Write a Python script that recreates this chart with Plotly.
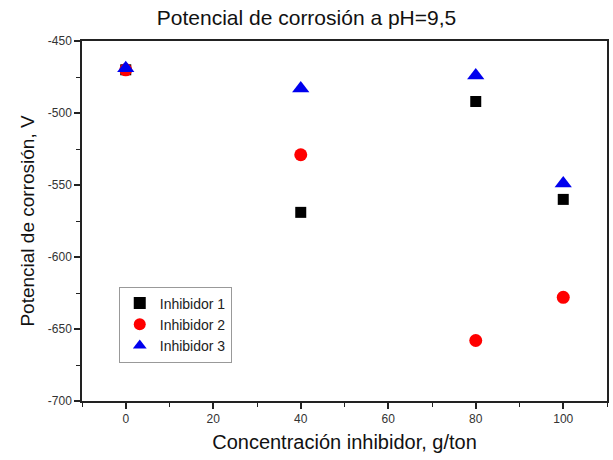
import plotly.graph_objects as go

conc = [0, 40, 80, 100]
inh1 = [-470, -569, -492, -560]
inh2 = [-470, -529, -658, -628]
inh3 = [-469, -483, -474, -549]
names = ["Inhibidor 1", "Inhibidor 2", "Inhibidor 3"]
x_ticks = [0, 20, 40, 60, 80, 100]
y_ticks = [-700, -650, -600, -550, -500, -450]

fig = go.Figure()
fig.add_trace(go.Scatter(x=conc, y=inh1, mode="markers", name=names[0],
                         marker=dict(symbol="square", size=11, color="black")))
fig.add_trace(go.Scatter(x=conc, y=inh2, mode="markers", name=names[1],
                         marker=dict(symbol="circle", size=13, color="#ff0000")))
fig.add_trace(go.Scatter(x=conc, y=inh3, mode="markers", name=names[2],
                         marker=dict(symbol="triangle-up", size=15, color="#0000ee")))

axis_common = dict(showgrid=False, zeroline=False, showline=True, linecolor="#222",
                   linewidth=1.5, mirror=True, ticks="outside", ticklen=6, tickwidth=1.5,
                   tickcolor="#222", tickfont=dict(family="Liberation Sans, Arial", size=12, color="#333"),
                   minor=dict(ticks="outside", ticklen=4, tickwidth=1.2, tickcolor="#222"))

fig.update_xaxes(range=[-10, 110], tickvals=x_ticks, ticktext=[str(v) for v in x_ticks],
                 title=dict(text="Concentración inhibidor, g/ton", standoff=10,
                            font=dict(family="Liberation Sans, Arial", size=20, color="#111")),
                 minor_dtick=10, minor_tick0=0, **axis_common)
fig.update_yaxes(range=[-700, -450], tickvals=y_ticks, ticktext=[str(v) for v in y_ticks],
                 title=dict(text="Potencial de corrosión, V", standoff=8,
                            font=dict(family="Liberation Sans, Arial", size=19, color="#111")),
                 minor_dtick=25, minor_tick0=0, **axis_common)

fig.update_layout(
    width=613, height=460,
    margin=dict(l=82, r=4, t=41, b=59),
    paper_bgcolor="white", plot_bgcolor="white",
    title=dict(text="Potencial de corrosión a pH=9,5", x=0.5, xanchor="center",
               y=0.962, yanchor="middle",
               font=dict(family="Liberation Sans, Arial", size=21, color="#111")),
    legend=dict(x=0.07, y=0.318, xanchor="left", yanchor="top",
                bordercolor="#999", borderwidth=1, bgcolor="white",
                font=dict(family="Liberation Sans, Arial", size=14, color="#222"),
                itemsizing="constant", tracegroupgap=0, itemwidth=30),
    showlegend=True,
)

fig.write_html("out.html")
